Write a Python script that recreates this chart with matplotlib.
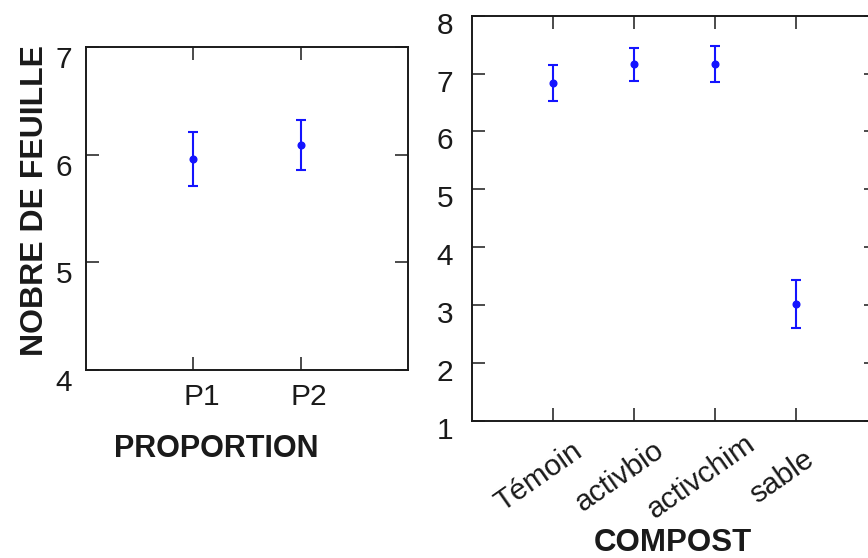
import matplotlib
matplotlib.use('Agg')
import matplotlib.pyplot as plt
from matplotlib.transforms import ScaledTranslation

plt.rcParams['font.family'] = ['Liberation Sans', 'DejaVu Sans']

# Données
proportion = ['P1', 'P2']
prop_moy = [5.96, 6.09]
prop_err = [0.25, 0.23]

compost = ['Témoin', 'activbio', 'activchim', 'sable']
comp_moy = [6.83, 7.16, 7.17, 3.02]
comp_err = [0.31, 0.29, 0.31, 0.41]

BLEU = '#1414ff'
NOIR = '#1a1a1a'

fig = plt.figure(figsize=(8.68, 5.58), dpi=100)
ax1 = fig.add_axes([0.0991, 0.3369, 0.3709, 0.5789])
ax2 = fig.add_axes([0.5438, 0.2461, 0.4666, 0.7258])


def decalage(labels, dx, dy):
    # déplace les étiquettes de graduation (en pixels)
    for lab in labels:
        lab.set_transform(lab.get_transform() +
                          ScaledTranslation(dx / 100, -dy / 100, fig.dpi_scale_trans))


for ax in (ax1, ax2):
    for s in ax.spines.values():
        s.set_linewidth(1.4)
        s.set_color(NOIR)
    ax.tick_params(direction='in', length=9.4, width=1.1, top=True, right=True,
                   color=NOIR, labelcolor=NOIR, labelsize=21.5)

# Panneau gauche : proportion
x1 = list(range(1, len(proportion) + 1))
ax1.errorbar(x1, prop_moy, yerr=prop_err, fmt='o', color=BLEU, ms=4.8,
             elinewidth=1.5, capsize=3.4, capthick=1.5)
ax1.set_xlim(0, 3)
ax1.set_ylim(4, 7)
ax1.set_yticks([4, 5, 6, 7])
ax1.set_xticks(x1)
ax1.set_xticklabels(proportion)
ax1.tick_params(axis='y', pad=10)
ax1.tick_params(axis='x', pad=9.4)
decalage(ax1.get_yticklabels(), 0, 10)
decalage(ax1.get_xticklabels(), 8, 0)

# Panneau droit : compost
x2 = list(range(1, len(compost) + 1))
ax2.errorbar(x2, comp_moy, yerr=comp_err, fmt='o', color=BLEU, ms=4.8,
             elinewidth=1.5, capsize=3.4, capthick=1.5)
ax2.set_xlim(0, 5)
ax2.set_ylim(1, 8)
ax2.set_yticks(range(1, 9))
ax2.set_xticks(x2)
ax2.set_xticklabels(compost, rotation=35, ha='center', va='center',
                    rotation_mode='anchor')
ax2.tick_params(axis='y', pad=13.7)
ax2.tick_params(axis='x', pad=0)
decalage(ax2.get_yticklabels(), 0, 7)
decalage(ax2.get_xticklabels(), -14, 56)

# Titres des axes
fig.text(216 / 868, (558 - 457) / 558, 'PROPORTION', ha='center', va='baseline',
         fontsize=22, fontweight='bold', color=NOIR)
fig.text(673 / 868, (558 - 551) / 558, 'COMPOST', ha='center', va='baseline',
         fontsize=22.5, fontweight='bold', color=NOIR)
fig.text(43 / 868, (558 - 200) / 558, 'NOBRE DE FEUILLE', ha='center', va='baseline',
         rotation=90, rotation_mode='anchor', fontsize=23, fontweight='bold', color=NOIR)

fig.savefig('out.png', dpi=100, facecolor='white')
